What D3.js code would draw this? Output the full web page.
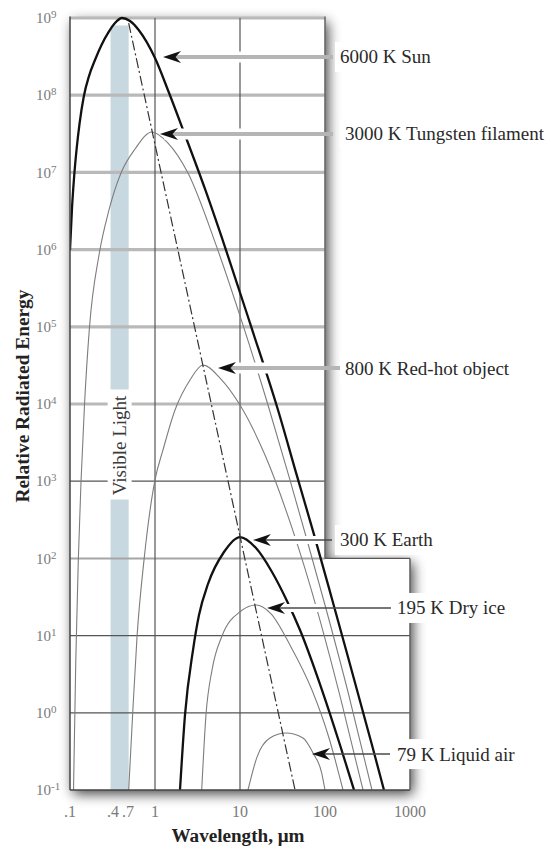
<!DOCTYPE html>
<html><head><meta charset="utf-8">
<script src="https://cdn.jsdelivr.net/npm/d3@7"></script>
<style>body{margin:0;background:#fff}svg{display:block}</style>
</head><body><svg id="c" width="547" height="846"></svg>
<script>
// ---------- data ----------
const xTickValues = [0.1, 0.32, 0.48, 1, 10, 100, 1000];
const xTickLabels = [".1", ".4", ".7", "1", "10", "100", "1000"];
const yTickExponents = [9, 8, 7, 6, 5, 4, 3, 2, 1, 0, -1];
const visibleBand = [0.3, 0.49];
const visibleBandTop = 8e8;
const visibleLabelEnergy = 2.9e3;

const sun6000 = [[0.1,9.9e5],[0.1056,3.46e6],[0.1115,8.45e6],[0.1193,1.95e7],[0.1294,4.24e7],[0.1449,9.48e7],[0.1673,1.77e8],[0.1968,2.86e8],[0.2348,4.47e8],[0.2853,6.59e8],[0.3384,8.61e8],[0.409,1.0e9],
  [0.508,9.15e8],[0.643,7.0e8],[1.0,3.03e8],[1.449,1.10e8],[2.254,3.05e7],[3.874,6.10e6],[6.66,1.08e6],[13.47,1.02e5],[28.0,8.36e3],[46.8,1.17e3],[72.3,226],[120.9,29.8],[186.5,5.28],[357,0.383],[494,0.1]];
const tungsten3000 = [[0.110,0.1],[0.1170,4.83],[0.1252,95],[0.1347,977],[0.1481,9.7e3],[0.1696,9.9e4],[0.2194,8.51e5],[0.2876,3.26e6],[0.398,9.8e6],[0.582,2.01e7],[0.922,3.34e7],
  [1.422,2.40e7],[2.444,9.8e6],[5.22,1.15e6],[10.85,1.05e5],[21.35,9.7e3],[38.7,1.04e3],[61.4,173],[100,24.9],[186.5,1.86],[357,0.1]];
const redHot800 = [[0.4904,0.1],[0.5466,0.99],[0.6143,9.6],[0.7424,95],[1.0,1.04e3],[1.242,2.54e3],[1.719,8.36e3],[2.581,2.05e4],[3.67,3.2e4],
  [5.82,2.17e4],[10,9.7e3],[19.68,2.18e3],[40.9,248],[82.7,19.6],[154.2,1.47],[280,0.1]];
const earth300 = [[1.968,0.1],[2.254,0.94],[2.80,6.5],[3.293,18.5],[4.20,46.6],[6.48,121],[10,189],
  [15.43,136],[23.8,66.7],[35.7,28.1],[50.8,11.8],[92.2,1.97],[150.2,0.383],[219.4,0.1]];
const dryIce195 = [[3.543,0.1],[3.98,0.94],[4.685,3.58],[6.14,9.9],[10.27,20.8],[15.43,24.9],
  [23.2,19.1],[38.7,7.55],[70.3,1.97],[111.5,0.472],[162.8,0.1]];
const liquidAir79 = [[12.42,0.1],[15.85,0.267],[22.5,0.472],[34.8,0.547],[55.1,0.472],[72.3,0.301],[91.5,0.166],[100,0.1]];
const wienLine = [[0.49,8.6e8],[44.4,0.1]];

const arrowLabels = ["6000 K Sun","3000 K Tungsten filament","800 K Red-hot object","300 K Earth","195 K Dry ice","79 K Liquid air"];
const arrowTipWavelength = [1.242, 1.145, 5.51, 14.2, 20.8, 70.3];
const arrowEnergy = [3.13e8, 3.14e7, 2.92e4, 173, 22.8, 0.292];
const arrowTailWavelength = [124, 124, 150, 121, 597, 582];
const labelWavelength = [150, 172, 172, 150, 703, 703];

// ---------- drawing ----------
const svg = d3.select("#c");
const x = d3.scaleLog().domain([0.1, 1000]).range([70, 410]);
const y = d3.scaleLog().domain([0.1, 1e9]).range([790, 18]);
const serif = "'Liberation Serif','Times New Roman',serif";

const defs = svg.append("defs");
const f = defs.append("filter").attr("id","shadow").attr("x","-30%").attr("y","-10%").attr("width","160%").attr("height","125%");
f.append("feGaussianBlur").attr("in","SourceAlpha").attr("stdDeviation",6.5).attr("result","b");
f.append("feOffset").attr("in","b").attr("dx",3).attr("dy",4).attr("result","o");
f.append("feComponentTransfer").attr("in","o").attr("result","s").append("feFuncA").attr("type","linear").attr("slope",0.75);
const fm = f.append("feMerge"); fm.append("feMergeNode").attr("in","s"); fm.append("feMergeNode").attr("in","SourceGraphic");

const X0 = x(0.1), X1 = x(100), X2 = x(1000), Ytop = y(1e9), Ystep = y(100), Ybot = y(0.1);
const panelPts = [[X0,Ytop],[X1,Ytop],[X1,Ystep],[X2,Ystep],[X2,Ybot],[X0,Ybot]];
svg.append("path").attr("d", d3.line()(panelPts)+"Z").attr("fill","#fff").attr("filter","url(#shadow)");

const clipPts = [[X0,Ytop-5],[X1,Ytop-5],[X1,Ystep],[X2,Ystep],[X2,Ybot],[X0,Ybot]];
defs.append("clipPath").attr("id","pc").append("path").attr("d", d3.line()(clipPts)+"Z");

// visible band
svg.append("rect").attr("x", x(visibleBand[0])).attr("width", x(visibleBand[1]) - x(visibleBand[0]))
  .attr("y", y(visibleBandTop)).attr("height", Ybot - y(visibleBandTop)).attr("fill","#c8d8e0");

// horizontal grid
yTickExponents.forEach(e => {
  const v = Math.pow(10, e), yy = y(v);
  if (e === -1) return;
  let x2 = v > 100 ? X1 : X2, stroke = "#555", sw = 1.2;
  if (e >= 4) { stroke = "#b9b9b9"; sw = 3.2; x2 = X1; }
  else if (e === 2) { stroke = "#a5a5a5"; sw = 2; x2 = X1; }
  svg.append("line").attr("x1", X0).attr("x2", x2).attr("y1", yy).attr("y2", yy).attr("stroke", stroke).attr("stroke-width", sw);
});
// vertical grid
[1, 10].forEach(v => {
  svg.append("line").attr("x1", x(v)).attr("x2", x(v)).attr("y1", Ytop).attr("y2", Ybot).attr("stroke","#555").attr("stroke-width",1.2);
});

// Visible light label
const vlx = x(Math.sqrt(visibleBand[0]*visibleBand[1])), vly = y(visibleLabelEnergy);
svg.append("rect").attr("x", vlx-12).attr("y", vly-56).attr("width",24).attr("height",110).attr("fill","#fff");
svg.append("text").attr("transform", `translate(${vlx},${vly}) rotate(-90)`).attr("text-anchor","middle").attr("dy","0.34em")
  .attr("font-family", serif).attr("font-size",19).attr("fill","#3a3a3a").text("Visible Light");

// curves
const lineGen = d3.line().x(d => x(d[0])).y(d => y(d[1])).curve(d3.curveMonotoneX);
const cg = svg.append("g").attr("clip-path","url(#pc)");
const series = [
  {data: tungsten3000, heavy: false}, {data: redHot800, heavy: false}, {data: dryIce195, heavy: false},
  {data: liquidAir79, heavy: false}, {data: sun6000, heavy: true}, {data: earth300, heavy: true}
];
series.forEach(s => {
  cg.append("path").attr("d", lineGen(s.data)).attr("fill","none").attr("stroke-linejoin","round")
    .attr("stroke", s.heavy ? "#111" : "#7d7d7d").attr("stroke-width", s.heavy ? 2.3 : 1.1);
});
cg.append("path").attr("d", d3.line().x(d=>x(d[0])).y(d=>y(d[1]))(wienLine)).attr("fill","none")
  .attr("stroke","#333").attr("stroke-width",1.2).attr("stroke-dasharray","10,3,2,3");

// arrow halos
arrowLabels.forEach((lab, i) => {
  const heavy = arrowEnergy[i] > 1e3;
  const ty = y(arrowEnergy[i]), tx = x(arrowTipWavelength[i]);
  svg.append("line").attr("x1", tx+4).attr("x2", Math.min(x(arrowTailWavelength[i]), X1-2)).attr("y1", ty).attr("y2", ty)
    .attr("stroke","#fff").attr("stroke-width", heavy ? 11 : 8);
});

// borders
svg.append("line").attr("x1",X0).attr("x2",X0).attr("y1",Ytop-1.5).attr("y2",Ybot).attr("stroke","#444").attr("stroke-width",1.5);
svg.append("line").attr("x1",X0).attr("x2",X2).attr("y1",Ybot).attr("y2",Ybot).attr("stroke","#444").attr("stroke-width",1.6);
svg.append("line").attr("x1",X1).attr("x2",X1).attr("y1",Ytop-1.5).attr("y2",Ystep).attr("stroke","#6a6a6a").attr("stroke-width",1.6);
svg.append("line").attr("x1",X1).attr("x2",X2).attr("y1",Ystep).attr("y2",Ystep).attr("stroke","#555").attr("stroke-width",1.4);
svg.append("line").attr("x1",X2).attr("x2",X2).attr("y1",Ystep).attr("y2",Ybot).attr("stroke","#666").attr("stroke-width",1.6);

// arrows + labels
arrowLabels.forEach((lab, i) => {
  const heavy = arrowEnergy[i] > 1e3;
  const ty = y(arrowEnergy[i]), tx = x(arrowTipWavelength[i]), ex = x(arrowTailWavelength[i]), lx = x(labelWavelength[i]);
  const t = svg.append("text").attr("x", lx).attr("y", ty).attr("dy","0.34em")
    .attr("font-family", serif).attr("font-size",19).attr("fill","#2a2a2a").text(lab);
  const w = t.node().getComputedTextLength();
  svg.insert("rect", () => t.node()).attr("x", lx-5).attr("y", ty-15).attr("width", w+8).attr("height",30).attr("fill","#fff");
  svg.append("line").attr("x1", tx+12).attr("x2", ex).attr("y1", ty).attr("y2", ty)
    .attr("stroke", heavy ? "#b5b5b5" : "#4a4a4a").attr("stroke-width", heavy ? 4 : 1.4);
  svg.append("path").attr("d", `M${tx},${ty} L${tx+18},${ty-6} L${tx+12.5},${ty} L${tx+18},${ty+6} Z`).attr("fill","#111");
  t.raise();
});

// y tick labels
yTickExponents.forEach(e => {
  const t = svg.append("text").attr("x", 36).attr("y", y(Math.pow(10, e))).attr("dy","0.34em")
    .attr("font-family", serif).attr("font-size",15).attr("fill","#7a7a7a");
  t.append("tspan").text("10");
  t.append("tspan").attr("font-size",11).attr("dy",-5).text(String(e));
});
// x tick labels
xTickValues.forEach((v, i) => {
  svg.append("text").attr("x", x(v)).attr("y", 812).attr("dy","0.34em").attr("text-anchor","middle")
    .attr("font-family", serif).attr("font-size",16).attr("fill","#7a7a7a").text(xTickLabels[i]);
});

// titles
svg.append("text").attr("x", 238).attr("y", 836).attr("dy","0.34em").attr("text-anchor","middle")
  .attr("font-family", serif).attr("font-weight","bold").attr("font-size",18).attr("fill","#222")
  .attr("textLength",133).attr("lengthAdjust","spacingAndGlyphs").text("Wavelength, μm");
svg.append("text").attr("transform","translate(23,396) rotate(-90)").attr("dy","0.34em").attr("text-anchor","middle")
  .attr("font-family", serif).attr("font-weight","bold").attr("font-size",18).attr("fill","#222")
  .attr("textLength",213).attr("lengthAdjust","spacingAndGlyphs").text("Relative Radiated Energy");
</script></body></html>
